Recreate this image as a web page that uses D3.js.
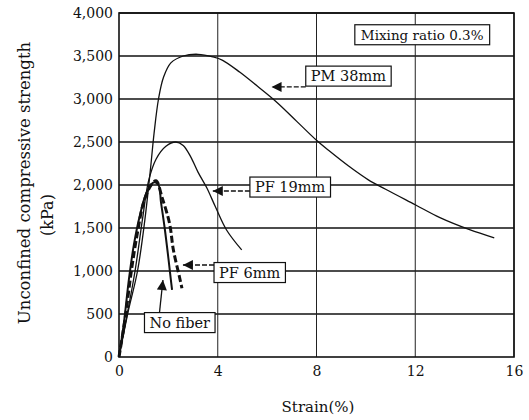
<!DOCTYPE html>
<html>
<head>
<meta charset="utf-8">
<script src="https://cdn.jsdelivr.net/npm/d3@7"></script>
<style>
body { margin: 0; background: #fff; }
svg text { font-family: "DejaVu Serif", serif; fill: #111; }
</style>
</head>
<body>
<script>
// strain (%) vs unconfined compressive strength (kPa)
var noFiber = [[0,0],[0.2,400],[0.4,900],[0.6,1300],[0.85,1650],[1.1,1900],[1.4,2030],[1.6,2000],[1.7,1800],[1.85,1500],[2.0,1150],[2.1,900],[2.15,780]];
var pf6 = [[0,0],[0.25,450],[0.5,1000],[0.75,1450],[1.0,1800],[1.3,2000],[1.5,2050],[1.75,1850],[2.05,1550],[2.2,1250],[2.45,930],[2.55,800]];
var pf19 = [[0,0],[0.3,450],[0.65,1000],[0.95,1600],[1.2,2050],[1.5,2300],[1.9,2450],[2.3,2500],[2.6,2460],[2.9,2330],[3.2,2150],[3.55,1970],[3.9,1750],[4.35,1480],[4.97,1245]];
var pm38 = [[0,0],[0.35,500],[0.75,1000],[1.05,1600],[1.28,2200],[1.42,2600],[1.6,3000],[1.8,3250],[2.1,3420],[2.6,3500],[3.2,3520],[3.8,3490],[4.2,3450],[4.9,3310],[5.6,3150],[6.4,2960],[7.2,2740],[8.0,2520],[8.5,2400],[9.3,2220],[10.1,2060],[10.8,1950],[12.0,1770],[13.0,1620],[14.2,1480],[15.2,1385]];

var xTicks = [0, 4, 8, 12, 16];
var yTicks = [0, 500, 1000, 1500, 2000, 2500, 3000, 3500, 4000];

// label boxes: centre and arrow tip in data units
var labels = [
  { text: "PM 38mm", x: 9.29, y: 3267, tipX: 6.18, tipY: 3140 },
  { text: "PF 19mm", x: 6.93, y: 1977, tipX: 3.80, tipY: 1930 },
  { text: "PF 6mm", x: 5.29, y: 983, tipX: 2.59, tipY: 1070 },
  { text: "No fiber", x: 2.46, y: 401, tipX: 1.78, tipY: 895 }
];

var width = 529;
var height = 420;
var margin = { top: 13, right: 15, bottom: 63, left: 119 };

var svg = d3.select("body").append("svg")
  .attr("width", width)
  .attr("height", height);

var x = d3.scaleLinear().domain([0, 16]).range([margin.left, width - margin.right]);
var y = d3.scaleLinear().domain([0, 4000]).range([height - margin.bottom, margin.top]);

// grid
svg.append("g").selectAll("line")
  .data(yTicks.slice(1))
  .enter().append("line")
  .attr("x1", x(0)).attr("x2", x(16))
  .attr("y1", function(d) { return y(d); })
  .attr("y2", function(d) { return y(d); })
  .attr("stroke", "#111").attr("stroke-width", 1.4);

svg.append("g").selectAll("line")
  .data(xTicks.slice(1))
  .enter().append("line")
  .attr("y1", y(0)).attr("y2", y(4000))
  .attr("x1", function(d) { return x(d); })
  .attr("x2", function(d) { return x(d); })
  .attr("stroke", "#222").attr("stroke-width", 1);

// frame
svg.append("rect")
  .attr("x", x(0)).attr("y", y(4000))
  .attr("width", x(16) - x(0)).attr("height", y(0) - y(4000))
  .attr("fill", "none").attr("stroke", "#111").attr("stroke-width", 1.6);

// axes
var yAxis = svg.append("g")
  .attr("transform", "translate(" + x(0) + ",0)")
  .call(d3.axisLeft(y).tickValues(yTicks).tickSize(0).tickPadding(6).tickFormat(d3.format(",")));
var xAxis = svg.append("g")
  .attr("transform", "translate(0," + y(0) + ")")
  .call(d3.axisBottom(x).tickValues(xTicks).tickSize(0).tickPadding(9));
[yAxis, xAxis].forEach(function(a) {
  a.select(".domain").remove();
  a.selectAll("text").style("font-family", "DejaVu Serif").style("font-size", "14px").attr("fill", "#111");
});

// axis titles
svg.append("text")
  .attr("transform", "translate(30,183) rotate(-90)")
  .attr("text-anchor", "middle")
  .style("font-size", "16.5px")
  .text("Unconfined compressive strength");
svg.append("text")
  .attr("transform", "translate(53,215) rotate(-90)")
  .attr("text-anchor", "middle")
  .style("font-size", "16px")
  .text("(kPa)");
svg.append("text")
  .attr("x", 318).attr("y", 412)
  .attr("text-anchor", "middle")
  .style("font-size", "15px")
  .text("Strain(%)");

// curves
var line = d3.line()
  .x(function(d) { return x(d[0]); })
  .y(function(d) { return y(d[1]); })
  .curve(d3.curveCatmullRom.alpha(0.5));

var curves = [
  { data: pm38, width: 1.3, dash: null },
  { data: pf19, width: 1.3, dash: null },
  { data: noFiber, width: 2, dash: null },
  { data: pf6, width: 3, dash: "7,3" }
];
svg.append("g").selectAll("path")
  .data(curves)
  .enter().append("path")
  .attr("d", function(d) { return line(d.data); })
  .attr("fill", "none")
  .attr("stroke", "#111")
  .attr("stroke-width", function(d) { return d.width; })
  .attr("stroke-dasharray", function(d) { return d.dash; });

// arrow head
svg.append("defs").append("marker")
  .attr("id", "head")
  .attr("viewBox", "0 0 10 10")
  .attr("refX", 10).attr("refY", 5)
  .attr("markerWidth", 12).attr("markerHeight", 10)
  .attr("markerUnits", "userSpaceOnUse")
  .attr("orient", "auto")
  .append("path")
  .attr("d", "M0,0L10,5L0,10Z")
  .attr("fill", "#111");

function box(g, text, cx, cy, size, padX, padY) {
  var t = g.append("text")
    .attr("x", cx).attr("y", cy)
    .attr("text-anchor", "middle")
    .attr("dy", "0.35em")
    .style("font-size", size + "px")
    .text(text);
  var b = t.node().getBBox();
  g.insert("rect", "text")
    .attr("x", b.x - padX).attr("y", b.y - padY)
    .attr("width", b.width + 2 * padX).attr("height", b.height + 2 * padY)
    .attr("fill", "#fff").attr("stroke", "#111").attr("stroke-width", 1.2);
  return { x: b.x - padX, y: b.y - padY, w: b.width + 2 * padX, h: b.height + 2 * padY };
}

labels.forEach(function(d) {
  var g = svg.append("g");
  var r = box(g, d.text, x(d.x), y(d.y), 14.5, 5, 2);
  var x0, y0;
  if (d.text === "No fiber") {
    x0 = r.x + 15; y0 = r.y;
  } else {
    x0 = r.x; y0 = y(d.tipY);
  }
  g.append("line")
    .attr("x1", x0).attr("y1", y0)
    .attr("x2", x(d.tipX)).attr("y2", y(d.tipY))
    .attr("stroke", "#111").attr("stroke-width", 1.3)
    .attr("stroke-dasharray", d.text === "No fiber" ? null : "5,2")
    .attr("marker-end", "url(#head)");
});

box(svg.append("g"), "Mixing ratio 0.3%", x(12.28), y(3744), 13.5, 6, 2);
</script>
</body>
</html>
